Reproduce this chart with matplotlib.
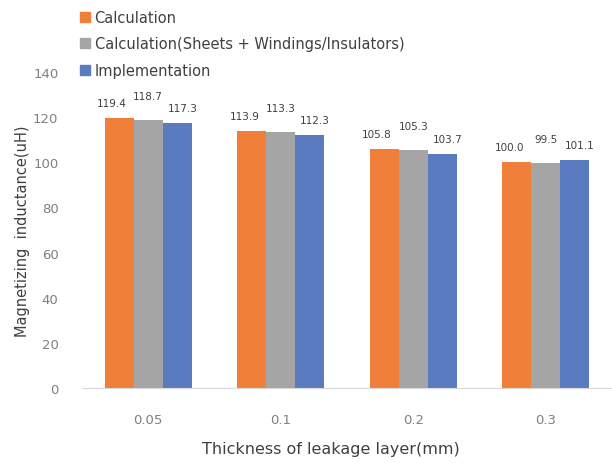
import matplotlib
matplotlib.use("Agg")
import matplotlib.pyplot as plt
from matplotlib.lines import Line2D
import numpy as np

categories = ["0.05", "0.1", "0.2", "0.3"]
series_names = ["Calculation", "Calculation(Sheets + Windings/Insulators)", "Implementation"]
calc = [119.4, 113.9, 105.8, 100.0]
calc_sheets = [118.7, 113.3, 105.3, 99.5]
impl = [117.3, 112.3, 103.7, 101.1]
label_text = [["119.4", "113.9", "105.8", "100.0"],
              ["118.7", "113.3", "105.3", "99.5"],
              ["117.3", "112.3", "103.7", "101.1"]]
colors = ["#F07F3A", "#A5A5A5", "#5B7BC0"]

plt.rcParams['font.family'] = ['DejaVu Sans']
fig = plt.figure(figsize=(6.12, 4.64), dpi=100)
ax = fig.add_axes([82/612, 1 - 389/464, 530/612, (389-73)/464])

x = np.arange(len(categories))
w = 0.22
series = [calc, calc_sheets, impl]
offsets = [(-7, 15), (0, 24), (5, 15)]
for i, (vals, c) in enumerate(zip(series, colors)):
    pos = x + (i - 1) * w
    ax.bar(pos, vals, width=w, color=c, label=series_names[i], zorder=2)
    for p, v, t in zip(pos, vals, label_text[i]):
        ax.annotate(t, (p, v), xytext=offsets[i], textcoords='offset pixels',
                    ha='center', va='center', fontsize=7.5, color='#404040')

ax.set_xlim(-0.5, len(categories) - 0.5)
ax.set_ylim(0, 140)
ax.set_yticks(np.arange(0, 141, 20))
ax.set_xticks(x)
ax.set_xticklabels(categories)
for s in ['top', 'right', 'left']:
    ax.spines[s].set_visible(False)
ax.spines['bottom'].set_color('#D9D9D9')
ax.tick_params(axis='both', length=0, colors='#7F7F7F', labelsize=9.5)
ax.tick_params(axis='x', pad=18)
ax.tick_params(axis='y', pad=17)
ax.set_xlabel("Thickness of leakage layer(mm)", fontsize=11.5, color='#404040')
ax.xaxis.set_label_coords(0.47, -0.168)
ax.set_ylabel("Magnetizing  inductance(uH)", fontsize=10.5, color='#404040', labelpad=2)

handles = [Line2D([], [], marker='s', linestyle='none', markersize=6.5, color=c) for c in colors]
fig.legend(handles, series_names, loc='upper left', bbox_to_anchor=(72/612, 1 - 5/464),
           frameon=False, fontsize=10.5, labelcolor='#404040', handletextpad=0.15,
           labelspacing=0.8, handlelength=1.0, borderaxespad=0)

fig.savefig("out.png", dpi=100)
